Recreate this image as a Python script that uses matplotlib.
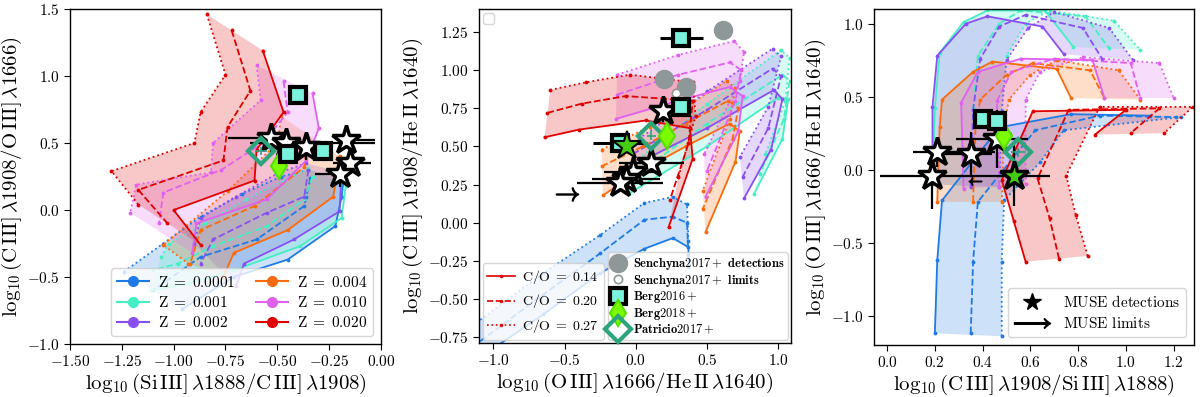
import numpy as np
import matplotlib
matplotlib.use('Agg')
import matplotlib.pyplot as plt
from matplotlib.lines import Line2D
from matplotlib.ticker import FuncFormatter

plt.rcParams['mathtext.fontset'] = 'cm'
plt.rcParams['font.family'] = ['DejaVu Serif']
plt.rcParams['axes.linewidth'] = 1.0

# model colours for each metallicity
z_labels = ['0.0001', '0.001', '0.002', '0.004', '0.010', '0.020']
z_colors = ['#1f7ae6', '#45efc4', '#8a4ff2', '#fb6a0c', '#e060f0', '#e00000']

# ---- panel 1 grids: [C/O=0.14 (solid), 0.20 (dashed), 0.27 (dotted)], points (x, y)
p1_z0001 = [[(-0.18, 0.23), (-0.19, 0.10), (-0.22, -0.12), (-0.45, -0.37), (-0.71, -0.50), (-0.96, -0.74)],
            [(-0.34, 0.24), (-0.36, 0.10), (-0.37, 0.03), (-0.60, -0.22), (-0.87, -0.35), (-1.10, -0.60)],
            [(-0.35, 0.30), (-0.48, 0.25), (-0.67, 0.12), (-0.87, -0.05), (-1.05, -0.25), (-1.24, -0.46)]]
p1_z001 = [[(-0.17, 0.18), (-0.19, -0.06), (-0.39, -0.27), (-0.71, -0.45), (-0.93, -0.55), (-1.11, -0.60)],
           [(-0.33, 0.25), (-0.37, 0.08), (-0.55, -0.12), (-0.81, -0.27), (-0.98, -0.40), (-1.10, -0.45)],
           [(-0.35, 0.31), (-0.47, 0.22), (-0.65, 0.08), (-0.85, -0.10), (-1.02, -0.25), (-1.06, -0.35)]]
p1_z002 = [[(-0.19, 0.28), (-0.20, -0.01), (-0.42, -0.22), (-0.66, -0.40), (-0.70, -0.57)],
           [(-0.35, 0.30), (-0.37, 0.10), (-0.55, -0.02), (-0.81, -0.22), (-0.87, -0.40)],
           [(-0.36, 0.35), (-0.49, 0.28), (-0.70, 0.10), (-0.87, -0.06), (-0.90, -0.25)]]
p1_z004 = [[(-0.20, 0.40), (-0.23, 0.10), (-0.45, -0.15), (-0.71, -0.32), (-0.76, -0.50)],
           [(-0.36, 0.50), (-0.37, 0.32), (-0.61, 0.03), (-0.87, -0.15), (-0.92, -0.40)],
           [(-0.48, 0.70), (-0.50, 0.50), (-0.74, 0.14), (-1.05, -0.26), (-0.93, -0.40)]]
p1_z010 = [[(-0.33, 0.87), (-0.30, 0.61), (-0.36, 0.37), (-0.55, 0.08), (-0.89, -0.10), (-0.91, -0.32)],
           [(-0.47, 0.96), (-0.45, 0.73), (-0.57, 0.50), (-0.77, 0.30), (-1.05, 0.13), (-1.07, -0.10)],
           [(-0.60, 1.08), (-0.58, 0.82), (-0.81, 0.50), (-0.82, 0.28), (-1.18, 0.19), (-1.21, -0.02)]]
p1_z020 = [[(-0.57, 1.19), (-0.47, 0.73), (-0.60, 0.45), (-0.61, 0.22), (-1.00, 0.00), (-0.87, -0.26)],
           [(-0.72, 1.34), (-0.63, 0.89), (-0.74, 0.62), (-0.76, 0.37), (-1.17, 0.15), (-1.03, -0.10)],
           [(-0.84, 1.46), (-0.75, 1.01), (-0.87, 0.73), (-0.90, 0.50), (-1.30, 0.29), (-1.17, 0.04)]]

# ---- panel 2 grids
p2_z0001 = [[(-1.20, -0.95), (-0.65, -0.60), (-0.25, -0.33), (0.06, -0.17), (0.26, -0.10), (0.37, -0.16), (0.37, -0.29)],
            [(-1.20, -0.85), (-0.65, -0.47), (-0.25, -0.20), (0.06, 0.02), (0.26, 0.04), (0.36, 0.00), (0.37, -0.21)],
            [(-1.20, -0.71), (-0.65, -0.33), (-0.25, -0.08), (0.06, 0.13), (0.26, 0.17), (0.36, 0.12), (0.37, -0.12)]]
p2_z001 = [[(-0.05, 0.19), (0.50, 0.50), (1.00, 0.82), (1.07, 0.81), (1.03, 0.55), (0.83, 0.19)],
           [(-0.02, 0.30), (0.50, 0.65), (1.03, 0.97), (1.08, 0.93), (1.04, 0.68), (0.87, 0.32)],
           [(0.02, 0.42), (0.50, 0.78), (1.02, 1.13), (1.08, 1.08), (1.05, 0.80), (0.91, 0.45)]]
p2_z002 = [[(-0.05, 0.36), (0.50, 0.62), (0.97, 0.87), (1.03, 0.81), (0.95, 0.48), (0.76, 0.16)],
           [(-0.02, 0.45), (0.50, 0.74), (0.96, 1.01), (1.02, 0.96), (0.93, 0.62), (0.75, 0.30)],
           [(0.02, 0.55), (0.50, 0.86), (0.96, 1.14), (1.02, 1.09), (0.93, 0.76), (0.73, 0.43)]]
p2_z004 = [[(-0.23, 0.18), (-0.02, 0.31), (0.35, 0.50), (0.66, 0.65), (0.73, 0.60), (0.70, 0.40), (0.49, -0.06)],
           [(-0.24, 0.37), (0.05, 0.50), (0.35, 0.65), (0.65, 0.80), (0.72, 0.75), (0.68, 0.55), (0.47, 0.09)],
           [(-0.24, 0.48), (0.10, 0.63), (0.35, 0.76), (0.64, 0.93), (0.70, 0.88), (0.66, 0.68), (0.47, 0.21)]]
p2_z010 = [[(-0.14, 0.68), (0.30, 0.80), (0.66, 0.89), (0.75, 0.83), (0.72, 0.60), (0.49, 0.17)],
           [(-0.13, 0.84), (0.30, 0.97), (0.66, 1.05), (0.74, 1.00), (0.70, 0.80), (0.50, 0.34)],
           [(-0.13, 0.97), (0.30, 1.10), (0.69, 1.19), (0.76, 1.12), (0.73, 0.93), (0.48, 0.45)]]
p2_z020 = [[(-0.64, 0.56), (-0.40, 0.61), (0.07, 0.67), (0.38, 0.62), (0.40, 0.42), (0.23, -0.03)],
           [(-0.62, 0.72), (-0.38, 0.78), (-0.07, 0.83), (0.40, 0.80), (0.37, 0.52), (0.24, 0.15)],
           [(-0.60, 0.87), (-0.35, 0.92), (-0.04, 0.97), (0.40, 0.92), (0.42, 0.70), (0.30, 0.30)]]

# ---- panel 3 grids
p3_z0001 = [[(0.20, -1.12), (0.21, -0.62), (0.23, -0.21), (0.47, 0.29), (0.77, 0.38), (1.10, 0.37)],
            [(0.35, -1.12), (0.36, -0.63), (0.38, -0.22), (0.62, 0.27), (0.89, 0.37), (1.21, 0.36)],
            [(0.48, -1.14), (0.48, -0.63), (0.49, -0.21), (0.64, 0.05), (0.74, 0.27), (1.23, 0.36)]]
p3_z001 = [[(0.19, -0.10), (0.20, 0.42), (0.22, 0.80), (0.32, 1.01), (0.42, 1.09), (0.66, 1.09), (0.78, 0.84)],
           [(0.35, -0.12), (0.36, 0.42), (0.38, 0.78), (0.47, 1.00), (0.56, 1.09), (0.83, 1.05), (0.93, 0.83)],
           [(0.47, -0.12), (0.48, 0.41), (0.50, 0.78), (0.58, 1.00), (0.68, 1.09), (0.95, 1.02), (1.06, 0.82)]]
p3_z002 = [[(0.19, -0.10), (0.19, 0.43), (0.21, 0.78), (0.33, 1.00), (0.42, 1.05), (0.65, 0.98), (0.74, 0.79)],
           [(0.35, -0.12), (0.36, 0.41), (0.39, 0.76), (0.47, 0.98), (0.58, 1.06), (0.82, 0.97), (0.90, 0.76)],
           [(0.47, -0.12), (0.48, 0.40), (0.50, 0.75), (0.59, 0.97), (0.70, 1.08), (0.93, 0.97), (1.03, 0.75)]]
p3_z004 = [[(0.21, -0.22), (0.22, 0.29), (0.23, 0.48), (0.36, 0.67), (0.44, 0.74), (0.71, 0.69), (0.77, 0.49)],
           [(0.36, -0.22), (0.37, 0.29), (0.39, 0.48), (0.50, 0.65), (0.61, 0.73), (0.85, 0.68), (0.91, 0.49)],
           [(0.48, -0.22), (0.49, 0.29), (0.51, 0.48), (0.60, 0.65), (0.71, 0.75), (0.97, 0.68), (1.06, 0.48)]]
p3_z010 = [[(0.32, -0.13), (0.31, 0.46), (0.38, 0.67), (0.56, 0.76), (0.86, 0.75), (0.91, 0.49)],
           [(0.47, -0.12), (0.46, 0.47), (0.52, 0.67), (0.70, 0.76), (1.02, 0.73), (1.06, 0.49)],
           [(0.58, -0.10), (0.58, 0.48), (0.64, 0.67), (0.82, 0.77), (1.14, 0.73), (1.20, 0.49)]]
p3_z020 = [[(0.58, -0.63), (0.53, -0.35), (0.48, -0.07), (0.61, 0.40), (1.00, 0.41), (0.87, 0.24)],
           [(0.72, -0.61), (0.68, -0.33), (0.63, -0.06), (0.76, 0.41), (1.14, 0.42), (1.02, 0.25)],
           [(0.84, -0.59), (0.79, -0.31), (0.75, -0.04), (0.89, 0.43), (1.28, 0.43), (1.16, 0.25)]]

# ---- observations
p1_berg16_x = [-0.40, -0.45, -0.28]
p1_berg16_y = [0.86, 0.42, 0.44]
p1_berg18_x = [-0.49]
p1_berg18_y = [0.33]
p1_patr_x = [-0.58]
p1_patr_y = [0.44]
p1_star_x = [-0.53, -0.46, -0.36, -0.17, -0.15, -0.20]
p1_star_y = [0.54, 0.50, 0.47, 0.52, 0.35, 0.27]
p1_star_xlo = [0.21, 0.17, 0.02, 0.02, 0.08, 0.12]
p1_star_xhi = [0.10, 0.43, 0.02, 0.14, 0.10, 0.03]
p1_star_ylo = [0.12, 0.04, 0.10, 0.04, 0.04, 0.10]
p1_star_yhi = [0.10, 0.04, 0.10, 0.04, 0.04, 0.05]

p2_sen_x = [0.61, 0.20, 0.35]
p2_sen_y = [1.26, 0.94, 0.89]
p2_senlim_x = [0.28]
p2_senlim_y = [0.85]
p2_berg16_x = [0.32, 0.32, -0.11]
p2_berg16_y = [1.21, 0.76, 0.52]
p2_berg16_xerr = [0.15, 0.0, 0.19]
p2_berg18_x = [0.22]
p2_berg18_y = [0.57]
p2_patr_x = [0.11]
p2_patr_y = [0.57]
p2_star_x = [0.19, 0.11, -0.02, -0.07, -0.11]
p2_star_y = [0.73, 0.39, 0.33, 0.29, 0.26]
p2_star_xerr = [0.0, 0.23, 0.20, 0.24, 0.30]
p2_star_yerr = [0.07, 0.04, 0.04, 0.04, 0.04]
p2_green_x = [-0.06]
p2_green_y = [0.50]
p2_limit_x = [-0.48]
p2_limit_y = [0.19]

p3_berg16_x = [0.40, 0.46]
p3_berg16_y = [0.35, 0.33]
p3_berg18_x = [0.49]
p3_berg18_y = [0.23]
p3_patr_x = [0.55]
p3_patr_y = [0.12]
p3_star_x = [0.21, 0.19, 0.35, 0.46]
p3_star_y = [0.12, -0.04, 0.11, 0.21]
p3_star_xlo = [0.10, 0.22, 0.15, 0.17]
p3_star_xhi = [0.24, 0.49, 0.09, 0.13]
p3_star_ylo = [0.10, 0.23, 0.16, 0.20]
p3_star_yhi = [0.10, 0.13, 0.15, 0.20]
p3_green_x = [0.53]
p3_green_y = [-0.04]
p3_limit_x = [0.37]
p3_limit_y = [-0.08]

patr_col = '#2ca57c'
berg16_face = '#7af2dc'
berg18_col = '#7cfc00'
green_star = '#45cc12'
sen_col = '#8e9898'


def draw_grid(ax, grid, color):
    sx, sy = zip(*grid[0])
    dx, dy = zip(*grid[2])
    ax.fill(list(sx) + list(dx)[::-1], list(sy) + list(dy)[::-1],
            color=color, alpha=0.22, lw=0, zorder=1)
    for pts, ls in zip(grid, ['-', '--', ':']):
        x, y = zip(*pts)
        ax.plot(x, y, ls=ls, color=color, marker='.', ms=3.5, lw=1.3, zorder=2)


def stars(ax, x, y, xerr, yerr, face='white'):
    ax.errorbar(x, y, xerr=xerr, yerr=yerr, fmt='none', ecolor='black', elinewidth=1.6, zorder=5)
    ax.plot(x, y, ls='none', marker='*', ms=21, mfc=face, mec='black', mew=2.5, zorder=6)


def obs(ax, bx, by, gx, gy, px, py):
    ax.errorbar(px, py, xerr=0.03, yerr=0.03, fmt='D', ms=13, mfc='none', mec=patr_col,
                mew=3, ecolor=patr_col, elinewidth=1.2, zorder=7)
    ax.errorbar(gx, gy, xerr=0.02, yerr=0.02, fmt='d', ms=13, mfc=berg18_col, mec='#55e000',
                mew=1.5, ecolor=berg18_col, zorder=7)
    ax.plot(bx, by, ls='none', marker='s', ms=12, mfc=berg16_face, mec='black', mew=3, zorder=8)


def fmt(nd):
    return FuncFormatter(lambda v, p: '$%.*f$' % (nd, v))


fig = plt.figure(figsize=(12, 3.97), dpi=100)
ax1 = fig.add_axes([0.0583, 0.1335, 0.2592, 0.8438])
ax2 = fig.add_axes([0.3992, 0.136, 0.26, 0.8413])
ax3 = fig.add_axes([0.7283, 0.131, 0.2667, 0.8463])

for grids, ax in [([p1_z0001, p1_z001, p1_z002, p1_z004, p1_z010, p1_z020], ax1),
                  ([p2_z0001, p2_z001, p2_z002, p2_z004, p2_z010, p2_z020], ax2),
                  ([p3_z0001, p3_z001, p3_z002, p3_z004, p3_z010, p3_z020], ax3)]:
    for g, c in zip(grids, z_colors):
        draw_grid(ax, g, c)

# panel 1
obs(ax1, p1_berg16_x, p1_berg16_y, p1_berg18_x, p1_berg18_y, p1_patr_x, p1_patr_y)
stars(ax1, p1_star_x, p1_star_y, [p1_star_xlo, p1_star_xhi], [p1_star_ylo, p1_star_yhi])
ax1.set_xlim(-1.5, 0.0)
ax1.set_ylim(-1.0, 1.5)
ax1.set_xticks(np.arange(-1.5, 0.01, 0.25))
ax1.set_yticks(np.arange(-1.0, 1.51, 0.5))
ax1.xaxis.set_major_formatter(fmt(2))
ax1.yaxis.set_major_formatter(fmt(1))
ax1.set_xlabel(r'$\log_{10}(\mathrm{Si\,III]}\,\lambda1888/\mathrm{C\,III]}\,\lambda1908)$', fontsize=15, labelpad=2)
ax1.set_ylabel(r'$\log_{10}(\mathrm{C\,III]}\,\lambda1908/\mathrm{O\,III]}\,\lambda1666)$', fontsize=15, labelpad=2)
zh = [Line2D([], [], color=c, marker='o', ms=7, lw=1.5) for c in z_colors]
ax1.legend(zh, [r'$\mathrm{Z}\;=\;%s$' % z for z in z_labels],
           ncol=2, loc='lower right', fontsize=11, handlelength=2.1, columnspacing=1.3,
           handletextpad=0.6, labelspacing=0.35, borderaxespad=0.5)

# panel 2
ax2.plot(p2_sen_x, p2_sen_y, ls='none', marker='o', ms=13, color=sen_col, zorder=6)
ax2.plot(p2_senlim_x, p2_senlim_y, ls='none', marker='o', ms=6, mfc='white', mec=sen_col, mew=1.2, zorder=6)
ax2.errorbar(p2_berg16_x, p2_berg16_y, xerr=p2_berg16_xerr, fmt='none', ecolor='black', elinewidth=2.2, zorder=7)
obs(ax2, p2_berg16_x, p2_berg16_y, p2_berg18_x, p2_berg18_y, p2_patr_x, p2_patr_y)
stars(ax2, p2_star_x, p2_star_y, p2_star_xerr, p2_star_yerr)
ax2.plot(p2_green_x, p2_green_y, ls='none', marker='*', ms=21, mfc=green_star, mec='black', mew=1.5, zorder=9)
ax2.plot(p2_limit_x, p2_limit_y, ls='none', marker=r'$\rightarrow$', ms=16, color='black', zorder=6)
ax2.set_xlim(-1.1, 1.09)
ax2.set_ylim(-0.787, 1.40)
ax2.set_xticks([-1.0, -0.5, 0.0, 0.5, 1.0])
ax2.set_yticks(np.arange(-0.75, 1.26, 0.25))
ax2.xaxis.set_major_formatter(fmt(1))
ax2.yaxis.set_major_formatter(fmt(2))
ax2.set_xlabel(r'$\log_{10}(\mathrm{O\,III]}\,\lambda1666/\mathrm{He\,II}\,\lambda1640)$', fontsize=15, labelpad=2)
ax2.set_ylabel(r'$\log_{10}(\mathrm{C\,III]}\,\lambda1908/\mathrm{He\,II}\,\lambda1640)$', fontsize=15, labelpad=2)

empty = ax2.legend(handles=[], loc='upper left', borderaxespad=0.3)
ax2.add_artist(empty)
co_h = [Line2D([], [], color='#e00000', ls=s, marker='.', ms=3, lw=1.2) for s in ['-', '--', ':']]
leg_co = ax2.legend(co_h, [r'$\mathrm{C/O}\;=\;0.14$', r'$\mathrm{C/O}\;=\;0.20$', r'$\mathrm{C/O}\;=\;0.27$'],
                    loc='lower left', fontsize=10, handlelength=2.0, handletextpad=0.5,
                    labelspacing=0.45, borderaxespad=0.25, borderpad=0.35)
ax2.add_artist(leg_co)
ob_h = [Line2D([], [], ls='none', marker='o', ms=13, color=sen_col),
        Line2D([], [], ls='none', marker='o', ms=6, mfc='white', mec=sen_col, mew=1.2),
        Line2D([], [], ls='none', marker='s', ms=12, mfc=berg16_face, mec='black', mew=3),
        Line2D([], [], ls='none', marker='d', ms=13, mfc=berg18_col, mec='#55e000', mew=1.5),
        Line2D([], [], ls='none', marker='D', ms=13, mfc='none', mec=patr_col, mew=3)]
ob_l = [r'$\mathbf{Senchyna2017}+\ \mathbf{detections}$', r'$\mathbf{Senchyna2017}+\ \mathbf{limits}$',
        r'$\mathbf{Berg2016+}$', r'$\mathbf{Berg2018+}$', r'$\mathbf{Patricio2017+}$']
ax2.legend(ob_h, ob_l, loc='lower right', fontsize=9, handlelength=1.0, labelspacing=0.05,
           borderaxespad=0.25, borderpad=0.3, handletextpad=0.7)

# panel 3
obs(ax3, p3_berg16_x, p3_berg16_y, p3_berg18_x, p3_berg18_y, p3_patr_x, p3_patr_y)
stars(ax3, p3_star_x, p3_star_y, [p3_star_xlo, p3_star_xhi], [p3_star_ylo, p3_star_yhi])
ax3.errorbar(p3_green_x, p3_green_y, yerr=0.21, fmt='none', ecolor='black', elinewidth=1.6, zorder=5)
ax3.plot(p3_green_x, p3_green_y, ls='none', marker='*', ms=21, mfc=green_star, mec='black', mew=2.5, zorder=9)
ax3.plot(p3_limit_x, p3_limit_y, ls='none', marker=r'$\leftarrow$', ms=9, color='black', zorder=6)
ax3.set_xlim(-0.055, 1.285)
ax3.set_ylim(-1.2, 1.1)
ax3.set_xticks(np.arange(0.0, 1.21, 0.2))
ax3.set_yticks([-1.0, -0.5, 0.0, 0.5, 1.0])
ax3.xaxis.set_major_formatter(fmt(1))
ax3.yaxis.set_major_formatter(fmt(1))
ax3.set_xlabel(r'$\log_{10}(\mathrm{C\,III]}\,\lambda1908/\mathrm{Si\,III]}\,\lambda1888)$', fontsize=15, labelpad=2)
ax3.set_ylabel(r'$\log_{10}(\mathrm{O\,III]}\,\lambda1666/\mathrm{He\,II}\,\lambda1640)$', fontsize=15, labelpad=2)
mh = [Line2D([], [], ls='none', marker='*', ms=13, color='black'),
      Line2D([], [], ls='none', marker=r'$\longrightarrow$', ms=26, color='black')]
ax3.legend(mh, [r'$\mathrm{MUSE\ detections}$', r'$\mathrm{MUSE\ limits}$'], loc='lower right',
           fontsize=11, handlelength=2.4, labelspacing=0.4, borderaxespad=0.5)

for ax in (ax1, ax2, ax3):
    ax.tick_params(labelsize=11, length=4)

fig.savefig('out.png', dpi=100)
